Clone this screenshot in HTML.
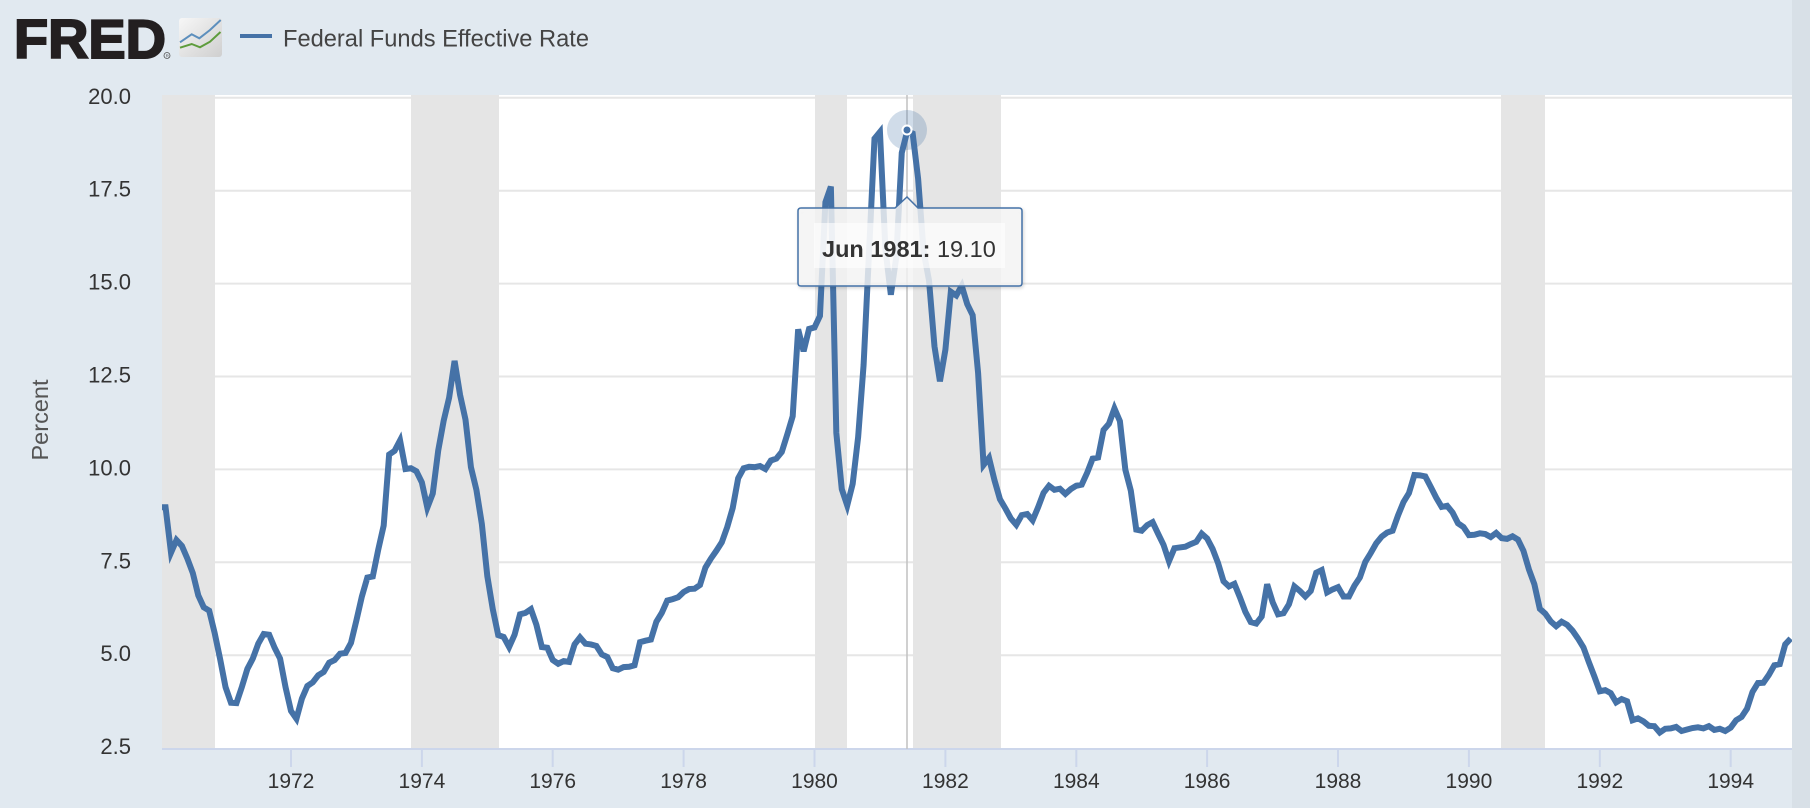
<!DOCTYPE html>
<html>
<head>
<meta charset="utf-8">
<style>
  html,body{margin:0;padding:0;}
  body{width:1810px;height:808px;overflow:hidden;background:#e1e9f0;font-family:"Liberation Sans",sans-serif;}
  svg{display:block;}
  text{font-family:"Liberation Sans",sans-serif;}
</style>
</head>
<body>
<svg width="1810" height="808" viewBox="0 0 1810 808" xmlns="http://www.w3.org/2000/svg">
  <defs>
    <clipPath id="plotclip"><rect x="162" y="0" width="1630" height="808"/></clipPath>
    <linearGradient id="icong" x1="0" y1="0" x2="1" y2="1">
      <stop offset="0" stop-color="#f7f7f7"/>
      <stop offset="1" stop-color="#cfcfcf"/>
    </linearGradient>
    <filter id="tshadow" x="-10%" y="-20%" width="120%" height="150%">
      <feDropShadow dx="1" dy="1.5" stdDeviation="1.5" flood-color="#000" flood-opacity="0.18"/>
    </filter>
  </defs>

  <!-- background -->
  <rect x="0" y="0" width="1810" height="808" fill="#e1e9f0"/>
  <rect x="1792" y="0" width="18" height="808" fill="#d8e0e7"/>

  <!-- header -->
  <text x="14" y="58" font-size="55" font-weight="bold" fill="#231f20" stroke="#231f20" stroke-width="2" textLength="152" lengthAdjust="spacingAndGlyphs">FRED</text>
  <circle cx="167" cy="55.5" r="3" fill="none" stroke="#555" stroke-width="0.8"/>
  <text x="165.6" y="57.3" font-size="4.5" fill="#555">R</text>
  <rect x="179" y="18" width="43" height="39" rx="3" fill="url(#icong)"/>
  <polyline points="180,42.3 191.7,34.3 199.3,38.3 210,30 220.7,20" fill="none" stroke="#5d8fbd" stroke-width="2"/>
  <polyline points="180,47.7 191.7,44 200,47.3 210,41.7 220.5,32" fill="none" stroke="#5e9c3c" stroke-width="2"/>
  <line x1="240" y1="36" x2="272" y2="36" stroke="#4572a7" stroke-width="4"/>
  <text x="283" y="46.5" font-size="24" fill="#444" textLength="306" lengthAdjust="spacingAndGlyphs">Federal Funds Effective Rate</text>

  <!-- plot background -->
  <rect x="162" y="95" width="1630" height="654" fill="#ffffff"/>

  <!-- gridlines -->
  <g stroke="#e6e6e6" stroke-width="2">
    <line x1="162" y1="97.8" x2="1792" y2="97.8"/>
    <line x1="162" y1="190.7" x2="1792" y2="190.7"/>
    <line x1="162" y1="283.6" x2="1792" y2="283.6"/>
    <line x1="162" y1="376.5" x2="1792" y2="376.5"/>
    <line x1="162" y1="469.4" x2="1792" y2="469.4"/>
    <line x1="162" y1="562.3" x2="1792" y2="562.3"/>
    <line x1="162" y1="655.2" x2="1792" y2="655.2"/>
  </g>

  <!-- recession bands -->
  <g fill="#e5e5e5">
    <rect x="162" y="95" width="53" height="654"/>
    <rect x="411" y="95" width="88" height="654"/>
    <rect x="815" y="95" width="32" height="654"/>
    <rect x="913" y="95" width="88" height="654"/>
    <rect x="1501" y="95" width="44" height="654"/>
  </g>

  <!-- x axis -->
  <line x1="162" y1="749" x2="1792" y2="749" stroke="#ccd6eb" stroke-width="2"/>
  <g stroke="#ccd6eb" stroke-width="2">
    <line x1="291" y1="749" x2="291" y2="767"/>
    <line x1="421.9" y1="749" x2="421.9" y2="767"/>
    <line x1="552.7" y1="749" x2="552.7" y2="767"/>
    <line x1="683.6" y1="749" x2="683.6" y2="767"/>
    <line x1="814.5" y1="749" x2="814.5" y2="767"/>
    <line x1="945.4" y1="749" x2="945.4" y2="767"/>
    <line x1="1076.3" y1="749" x2="1076.3" y2="767"/>
    <line x1="1207.1" y1="749" x2="1207.1" y2="767"/>
    <line x1="1338" y1="749" x2="1338" y2="767"/>
    <line x1="1468.9" y1="749" x2="1468.9" y2="767"/>
    <line x1="1599.8" y1="749" x2="1599.8" y2="767"/>
    <line x1="1730.7" y1="749" x2="1730.7" y2="767"/>
  </g>
  <g font-size="21" fill="#333" text-anchor="middle">
    <text x="291" y="788">1972</text>
    <text x="421.9" y="788">1974</text>
    <text x="552.7" y="788">1976</text>
    <text x="683.6" y="788">1978</text>
    <text x="814.5" y="788">1980</text>
    <text x="945.4" y="788">1982</text>
    <text x="1076.3" y="788">1984</text>
    <text x="1207.1" y="788">1986</text>
    <text x="1338" y="788">1988</text>
    <text x="1468.9" y="788">1990</text>
    <text x="1599.8" y="788">1992</text>
    <text x="1730.7" y="788">1994</text>
  </g>

  <!-- y axis labels -->
  <g font-size="22" fill="#333" text-anchor="end">
    <text x="131" y="104">20.0</text>
    <text x="131" y="196.7">17.5</text>
    <text x="131" y="289.6">15.0</text>
    <text x="131" y="382.5">12.5</text>
    <text x="131" y="475.4">10.0</text>
    <text x="131" y="568.3">7.5</text>
    <text x="131" y="661.2">5.0</text>
    <text x="131" y="754.1">2.5</text>
  </g>
  <text transform="translate(48,420) rotate(-90)" text-anchor="middle" font-size="23.5" fill="#555">Percent</text>

  <!-- crosshair -->
  <line x1="907" y1="95" x2="907" y2="749" stroke="#c4c4c4" stroke-width="1.6"/>

  <!-- series -->
  <g clip-path="url(#plotclip)">
    <polyline transform="matrix(5.4534 0 0 -37.16 160.1 841)" vector-effect="non-scaling-stroke" fill="none" stroke="#4572a7" stroke-width="6" stroke-linejoin="miter" stroke-linecap="butt"
      points="0,8.98 1,8.98 2,7.76 3,8.10 4,7.94 5,7.60 6,7.21 7,6.61 8,6.29 9,6.20 10,5.60 11,4.90
12,4.14 13,3.72 14,3.71 15,4.15 16,4.63 17,4.91 18,5.31 19,5.57 20,5.55 21,5.20 22,4.91 23,4.14
24,3.50 25,3.29 26,3.83 27,4.17 28,4.27 29,4.46 30,4.55 31,4.80 32,4.87 33,5.04 34,5.06 35,5.33
36,5.94 37,6.58 38,7.09 39,7.12 40,7.84 41,8.49 42,10.40 43,10.50 44,10.78 45,10.01 46,10.03 47,9.95
48,9.65 49,8.97 50,9.35 51,10.51 52,11.31 53,11.93 54,12.92 55,12.01 56,11.34 57,10.06 58,9.45 59,8.53
60,7.13 61,6.24 62,5.54 63,5.49 64,5.22 65,5.55 66,6.10 67,6.14 68,6.24 69,5.82 70,5.22 71,5.20
72,4.87 73,4.77 74,4.84 75,4.82 76,5.29 77,5.48 78,5.31 79,5.29 80,5.25 81,5.02 82,4.95 83,4.65
84,4.61 85,4.68 86,4.69 87,4.73 88,5.35 89,5.39 90,5.42 91,5.90 92,6.14 93,6.47 94,6.51 95,6.56
96,6.70 97,6.78 98,6.79 99,6.89 100,7.36 101,7.60 102,7.81 103,8.04 104,8.45 105,8.96 106,9.76 107,10.03
108,10.07 109,10.06 110,10.09 111,10.01 112,10.24 113,10.29 114,10.47 115,10.94 116,11.43 117,13.77 118,13.18 119,13.78
120,13.82 121,14.13 122,17.19 123,17.61 124,10.98 125,9.47 126,9.03 127,9.61 128,10.87 129,12.81 130,15.85 131,18.90
132,19.08 133,15.93 134,14.70 135,15.72 136,18.52 137,19.10 138,19.04 139,17.82 140,15.87 141,15.08 142,13.31 143,12.37
144,13.22 145,14.78 146,14.68 147,14.94 148,14.45 149,14.15 150,12.59 151,10.12 152,10.31 153,9.71 154,9.20 155,8.95
156,8.68 157,8.51 158,8.77 159,8.80 160,8.63 161,8.98 162,9.37 163,9.56 164,9.45 165,9.48 166,9.34 167,9.47
168,9.56 169,9.59 170,9.91 171,10.29 172,10.32 173,11.06 174,11.23 175,11.64 176,11.30 177,9.99 178,9.43 179,8.38
180,8.35 181,8.50 182,8.58 183,8.27 184,7.97 185,7.53 186,7.88 187,7.90 188,7.92 189,7.99 190,8.05 191,8.27
192,8.14 193,7.86 194,7.48 195,6.99 196,6.85 197,6.92 198,6.56 199,6.17 200,5.89 201,5.85 202,6.04 203,6.91
204,6.43 205,6.10 206,6.13 207,6.37 208,6.85 209,6.73 210,6.58 211,6.73 212,7.22 213,7.29 214,6.69 215,6.77
216,6.83 217,6.58 218,6.58 219,6.87 220,7.09 221,7.51 222,7.75 223,8.01 224,8.19 225,8.30 226,8.35 227,8.76
228,9.12 229,9.36 230,9.85 231,9.84 232,9.81 233,9.53 234,9.24 235,8.99 236,9.02 237,8.84 238,8.55 239,8.45
240,8.23 241,8.24 242,8.28 243,8.26 244,8.18 245,8.29 246,8.15 247,8.13 248,8.20 249,8.11 250,7.81 251,7.31
252,6.91 253,6.25 254,6.12 255,5.91 256,5.78 257,5.90 258,5.82 259,5.66 260,5.45 261,5.21 262,4.81 263,4.43
264,4.03 265,4.06 266,3.98 267,3.73 268,3.82 269,3.76 270,3.25 271,3.30 272,3.22 273,3.10 274,3.09 275,2.92
276,3.02 277,3.03 278,3.07 279,2.96 280,3.00 281,3.04 282,3.06 283,3.03 284,3.09 285,2.99 286,3.02 287,2.96
288,3.05 289,3.25 290,3.34 291,3.56 292,4.01 293,4.25 294,4.26 295,4.47 296,4.73 297,4.76 298,5.29 299,5.45"/>
  </g>

  <!-- hover marker -->
  <circle cx="907" cy="130" r="20" fill="#4572a7" fill-opacity="0.25"/>
  <circle cx="907" cy="130" r="4.5" fill="#4572a7" stroke="#ffffff" stroke-width="2"/>

  <!-- tooltip -->
  <path filter="url(#tshadow)" d="M801 208 L895 208 L907 197 L918 208 L1019 208 Q1022 208 1022 211 L1022 283 Q1022 286 1019 286 L801 286 Q798 286 798 283 L798 211 Q798 208 801 208 Z" fill="rgba(246,246,246,0.8)" stroke="#4572a7" stroke-width="1.5"/>
  <rect x="814" y="223" width="191" height="45" fill="rgba(255,255,255,0.6)"/>
  <text x="822" y="257" font-size="23.5" fill="#333"><tspan font-weight="bold">Jun 1981:</tspan><tspan> 19.10</tspan></text>
</svg>
</body>
</html>
